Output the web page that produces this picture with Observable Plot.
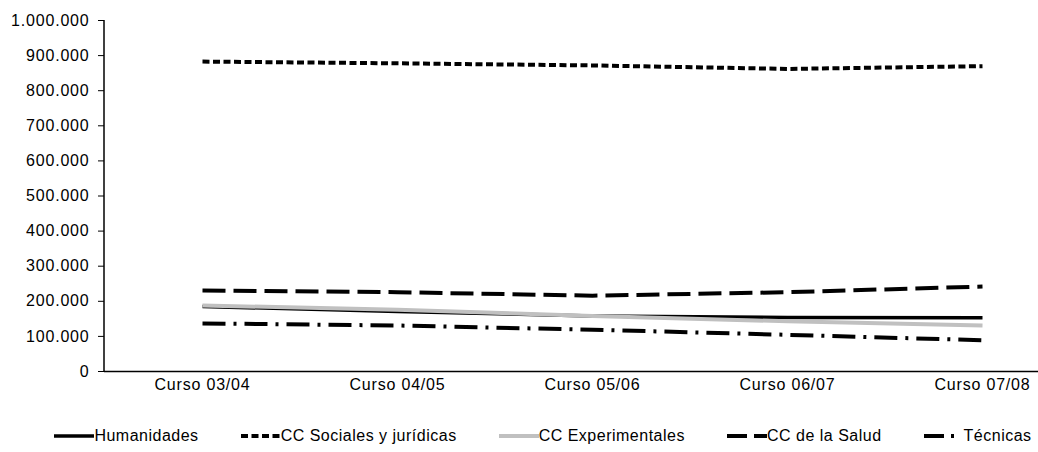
<!DOCTYPE html>
<html><head><meta charset="utf-8">
<script src="https://cdn.jsdelivr.net/npm/d3@7"></script>
<script src="https://cdn.jsdelivr.net/npm/@observablehq/plot@0.6"></script>
<style>
body{margin:0;background:#fff;font-family:"Liberation Sans",Arial,sans-serif;}
#legend{display:flex;justify-content:center;align-items:center;gap:42px;font-size:16px;letter-spacing:0.5px;color:#000;margin-top:27px;height:18px;padding-left:48px}
#legend .it{display:flex;align-items:center}
#legend svg{display:block}
svg text{letter-spacing:0.8px}
</style></head><body>
<div id="chart"></div>
<div id="legend"></div>
<script>
const cursos = ["Curso 03/04","Curso 04/05","Curso 05/06","Curso 06/07","Curso 07/08"];
const humanidades = [185000,171000,158000,154000,153000];
const sociales = [883000,878000,872000,862000,870000];
const experimentales = [188000,176000,158000,143000,131000];
const salud = [231000,226000,216000,226000,242000];
const tecnicas = [137000,131000,119000,104500,89000];
const yTicks = [0,100000,200000,300000,400000,500000,600000,700000,800000,900000,1000000];

const seriesDefs = [
  {name:"Humanidades", values:humanidades, stroke:"#000", width:3.5, dash:null, lsample:null},
  {name:"CC Sociales y jurídicas", values:sociales, stroke:"#000", width:4, dash:"7,3.5", lsample:"7,3.5"},
  {name:"CC Experimentales", values:experimentales, stroke:"#c0c0c0", width:4, dash:null, lsample:null},
  {name:"CC de la Salud", values:salud, stroke:"#000", width:4, dash:"23,8", lsample:"20,7"},
  {name:"Técnicas", values:tecnicas, stroke:"#000", width:4, dash:"23,8,3,8", lsample:"20,7,3,20"}
];

const fmt = d3.formatLocale({decimal:",",thousands:".",grouping:[3],currency:["",""]}).format(",");

const marks = [];
marks.push(Plot.ruleY([0],{stroke:"#000",strokeWidth:1.5}));
// left axis line drawn from the plot's own dimensions
marks.push((index, scales, values, dims) => {
  const g = d3.create("svg:g");
  g.append("line")
    .attr("x1", dims.marginLeft).attr("x2", dims.marginLeft)
    .attr("y1", dims.marginTop).attr("y2", dims.height - dims.marginBottom)
    .attr("stroke", "#000").attr("stroke-width", 1.5);
  return g.node();
});
for (const s of seriesDefs) {
  const data = cursos.map((c,i)=>({curso:c, value:s.values[i]}));
  marks.push(Plot.line(data,{x:"curso",y:"value",stroke:s.stroke,strokeWidth:s.width,strokeDasharray:s.dash||undefined,strokeLinecap:"butt"}));
}
marks.push(Plot.axisY({ticks:yTicks,tickFormat:fmt,tickSize:6,tickPadding:9,fontSize:16,label:null}));
marks.push(Plot.axisX({tickSize:0,tickPadding:7,fontSize:16,label:null}));

const plot = Plot.plot({
  width:1038, height:400,
  marginLeft:104, marginRight:0, marginTop:20, marginBottom:29,
  style:{fontFamily:"'Liberation Sans', Arial, sans-serif", fontSize:"16px", color:"#000", background:"#fff"},
  x:{type:"point", domain:cursos, range:[200,983], padding:0},
  y:{domain:[0,1000000], range:[371,20]},
  marks
});
document.getElementById("chart").appendChild(plot);

const leg = document.getElementById("legend");
for (const s of seriesDefs) {
  const it = document.createElement("div"); it.className="it";
  const sv = d3.create("svg").attr("width",40).attr("height",10);
  sv.append("line").attr("x1",0).attr("x2",40).attr("y1",5).attr("y2",5)
    .attr("stroke",s.stroke).attr("stroke-width",s.width)
    .attr("stroke-dasharray",s.lsample);
  it.appendChild(sv.node());
  const t = document.createElement("span"); t.textContent = s.name;
  it.appendChild(t);
  leg.appendChild(it);
}
</script>
</body></html>
